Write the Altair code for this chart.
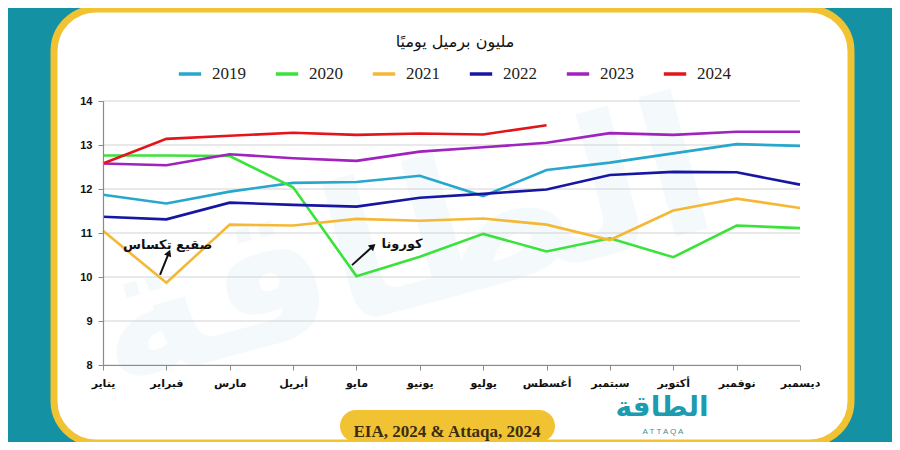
import json
import altair as alt
import pandas as pd

months = ["يناير", "فبراير", "مارس", "أبريل", "مايو", "يونيو",
          "يوليو", "أغسطس", "سبتمبر", "أكتوبر", "نوفمبر", "ديسمبر"]
years = ["2019", "2020", "2021", "2022", "2023", "2024"]
colors = ["#27a7cc", "#3be23b", "#f5b836", "#1616a3", "#a023bd", "#e4141b"]

v2019 = [11.87, 11.67, 11.94, 12.14, 12.16, 12.30, 11.84, 12.43, 12.60, 12.81, 13.02, 12.98]
v2020 = [12.76, 12.76, 12.75, 12.04, 10.02, 10.46, 10.98, 10.58, 10.88, 10.45, 11.17, 11.11]
v2021 = [11.05, 9.87, 11.19, 11.17, 11.32, 11.28, 11.33, 11.19, 10.84, 11.51, 11.78, 11.57]
v2022 = [11.37, 11.31, 11.69, 11.64, 11.60, 11.80, 11.89, 11.99, 12.32, 12.39, 12.38, 12.10]
v2023 = [12.58, 12.54, 12.79, 12.70, 12.64, 12.85, 12.95, 13.05, 13.27, 13.23, 13.30, 13.30]
v2024 = [12.58, 13.14, 13.21, 13.28, 13.23, 13.26, 13.24, 13.45]
y_ticks = [8, 9, 10, 11, 12, 13, 14]

# annotations (month index, value)
ann_text = ["صقيع تكساس", "كورونا"]
ann_x = [1.02, 4.72]
ann_y = [10.73, 10.75]
arrow_x0 = [0.90, 3.93]
arrow_y0 = [10.05, 10.27]
arrow_x1 = [1.04, 4.26]
arrow_y1 = [10.55, 10.70]
arrow_ang = [22, 48]

title_text = "مليون برميل يوميًا"
source_text = "EIA, 2024 & Attaqa, 2024"

series = {"2019": v2019, "2020": v2020, "2021": v2021,
          "2022": v2022, "2023": v2023, "2024": v2024}
rows = []
for yr, vals in series.items():
    for i, v in enumerate(vals):
        rows.append({"m": i, "v": v, "year": yr})
df = pd.DataFrame(rows)

W, H = 697, 264
TEAL = "#1492a3"
YEL = "#f1c232"

xscale = alt.Scale(domain=[0, 11], nice=False, zero=False)
yscale = alt.Scale(domain=[8, 14], nice=False, zero=False)
label_expr = json.dumps(months, ensure_ascii=False) + "[datum.value]"
xaxis = alt.Axis(values=list(range(12)), labelExpr=label_expr, title=None, grid=False,
                 domainColor="#8a8a8a", tickColor="#8a8a8a", tickSize=5, domainWidth=1.2,
                 labelFont="DejaVu Sans", labelFontWeight="bold", labelFontSize=11,
                 labelColor="#111", labelPadding=7, labelAngle=0, labelOverlap=False,
                 labelFlush=False, zindex=1)
yaxis = alt.Axis(values=y_ticks, title=None, grid=False, domainColor="#8a8a8a",
                 tickColor="#8a8a8a", tickSize=5, domainWidth=1.2,
                 labelFont="Liberation Sans", labelFontWeight="bold", labelFontSize=11,
                 labelColor="#111", labelPadding=6, zindex=1)

one = pd.DataFrame({"a": [0]})

card = alt.Chart(one).mark_rect(fill="white", stroke=YEL, strokeWidth=7, cornerRadius=42).encode(
    x=alt.value(-49), x2=alt.value(748), y=alt.value(-92), y2=alt.value(342))

tab = alt.Chart(one).mark_rect(fill=YEL, cornerRadius=22).encode(
    x=alt.value(237), x2=alt.value(452), y=alt.value(309), y2=alt.value(341))

watermark = alt.Chart(one).mark_text(text="الطاقة", font="DejaVu Sans", fontWeight="bold",
                                     fontSize=190, color=TEAL, opacity=0.04, angle=345).encode(
    x=alt.value(300), y=alt.value(150))

grid = alt.Chart(pd.DataFrame({"v": y_ticks})).mark_rule(color="#d2d2d2", strokeWidth=1).encode(
    y=alt.Y("v:Q", scale=yscale, axis=yaxis), x=alt.value(0), x2=alt.value(W))

lines = alt.Chart(df).mark_line(strokeWidth=2.6).encode(
    x=alt.X("m:Q", scale=xscale, axis=xaxis),
    y=alt.Y("v:Q", scale=yscale, axis=yaxis),
    color=alt.Color("year:N", scale=alt.Scale(domain=years, range=colors),
                    legend=alt.Legend(orient="none", legendX=74, legendY=-40,
                                      direction="horizontal", columns=6, title=None,
                                      symbolType="stroke", symbolSize=500,
                                      symbolStrokeWidth=3.5, labelFont="Liberation Serif",
                                      labelFontSize=17, labelColor="#222",
                                      columnPadding=22, labelOffset=9)),
    strokeWidth=alt.condition("datum.year == '2024'", alt.value(3.6), alt.value(2.6)),
)

ann_df = pd.DataFrame({"t": ann_text, "x": ann_x, "y": ann_y})
ann = alt.Chart(ann_df).mark_text(font="DejaVu Sans", fontWeight="bold", fontSize=13,
                                  color="#111").encode(
    x=alt.X("x:Q", scale=xscale, axis=xaxis), y=alt.Y("y:Q", scale=yscale, axis=yaxis), text="t:N")

arr_df = pd.DataFrame({"x0": arrow_x0, "y0": arrow_y0, "x1": arrow_x1, "y1": arrow_y1,
                       "ang": arrow_ang})
arr = alt.Chart(arr_df).mark_rule(color="#111", strokeWidth=2).encode(
    x=alt.X("x0:Q", scale=xscale, axis=xaxis), x2="x1:Q",
    y=alt.Y("y0:Q", scale=yscale, axis=yaxis), y2="y1:Q")
heads = alt.Chart(arr_df).mark_point(shape="triangle-up", filled=True, color="#111",
                                     size=60, opacity=1).encode(
    x=alt.X("x1:Q", scale=xscale, axis=xaxis), y=alt.Y("y1:Q", scale=yscale, axis=yaxis),
    angle=alt.Angle("ang:Q", scale=None))

title = alt.Chart(one).mark_text(text=title_text, font="DejaVu Sans", fontSize=16,
                                 color="#111").encode(x=alt.value(352), y=alt.value(-59))
source = alt.Chart(one).mark_text(text=source_text, font="Liberation Serif", fontWeight="bold",
                                  fontSize=17, color="#3a2c10").encode(
    x=alt.value(344), y=alt.value(331))
logo = alt.Chart(one).mark_text(text="الطاقة", font="DejaVu Sans", fontWeight="bold",
                                fontSize=28, color="#1d9bb0").encode(
    x=alt.value(559), y=alt.value(307))
logo2 = alt.Chart(one).mark_text(text="A    T    T    A    Q    A", font="Liberation Sans",
                                 fontSize=8, color="#3a8fa0").encode(
    x=alt.value(560), y=alt.value(331))

chart = alt.layer(card, tab, watermark, grid, lines, arr, heads, ann, title, source, logo, logo2).properties(
    width=W, height=H, background=TEAL, autosize="none",
    padding={"left": 95, "top": 93, "right": 92, "bottom": 77},
).configure_view(stroke=None)

chart.save("out.html", embed_options={"renderer": "svg", "actions": False})
